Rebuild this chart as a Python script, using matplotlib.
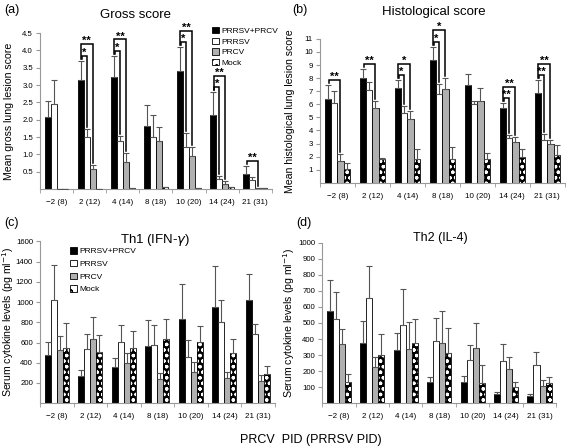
import numpy as np
import matplotlib.pyplot as plt
from matplotlib.patches import Patch

plt.rcParams['font.family'] = ['Liberation Sans', 'DejaVu Sans']
plt.rcParams['hatch.linewidth'] = 0.9

groups = ["\u22122 (8)", "2 (12)", "4 (14)", "8 (18)", "10 (20)", "14 (24)", "21 (31)"]
series = ["PRRSV+PRCV", "PRRSV", "PRCV", "Mock"]

# (a) gross score
gross_mean = [
    [2.08, 3.15, 3.22, 1.83, 3.42, 2.13, 0.43],
    [2.45, 1.50, 1.40, 1.50, 1.20, 0.30, 0.25],
    [0.00, 0.57, 0.78, 1.38, 0.95, 0.15, 0.02],
    [0.00, 0.00, 0.02, 0.05, 0.03, 0.05, 0.03],
]
gross_err = [
    [0.45, 0.55, 0.62, 0.60, 0.67, 0.67, 0.23],
    [0.70, 0.22, 0.12, 0.65, 0.42, 0.08, 0.10],
    [0.00, 0.12, 0.27, 0.40, 0.25, 0.08, 0.00],
    [0.00, 0.00, 0.00, 0.01, 0.01, 0.01, 0.01],
]
# (group, bar compared with PRRSV+PRCV, label)
gross_sig = [(1, 1, "*"), (1, 2, "**"), (2, 1, "*"), (2, 2, "**"),
             (4, 1, "*"), (4, 2, "**"), (5, 1, "*"), (5, 2, "**"), (6, 2, "**")]

# (b) histological score
hist_mean = [
    [6.40, 8.00, 7.25, 9.40, 7.50, 5.70, 6.90],
    [6.10, 7.10, 5.35, 6.80, 6.00, 3.45, 3.30],
    [1.70, 5.70, 4.90, 7.15, 6.25, 3.10, 3.00],
    [1.02, 1.80, 1.85, 1.85, 1.80, 1.95, 2.15],
]
hist_err = [
    [1.05, 0.70, 0.60, 1.00, 0.85, 0.40, 0.95],
    [0.90, 0.60, 0.55, 0.75, 0.25, 0.20, 0.40],
    [0.50, 0.55, 0.60, 0.85, 1.00, 0.40, 0.30],
    [0.50, 0.10, 0.70, 0.90, 0.50, 0.65, 0.75],
]
hist_sig = [(0, 2, "**"), (1, 2, "**"), (2, 1, "*"), (2, 2, "*"),
            (3, 1, "*"), (3, 2, "*"), (5, 1, "**"), (5, 2, "**"),
            (6, 1, "**"), (6, 2, "**")]

# (c) Th1 (IFN-gamma)
th1_mean = [
    [480, 270, 355, 565, 830, 950, 1020],
    [1020, 540, 605, 580, 455, 800, 680],
    [530, 630, 395, 235, 305, 245, 220],
    [550, 505, 545, 630, 610, 495, 285],
]
th1_err = [
    [125, 60, 90, 255, 345, 405, 255],
    [350, 145, 170, 190, 170, 225, 100],
    [135, 220, 105, 60, 105, 60, 55],
    [240, 170, 170, 200, 150, 140, 85],
]

# (d) Th2 (IL-4)
th2_mean = [
    [575, 375, 330, 135, 135, 55, 45],
    [525, 655, 485, 390, 270, 265, 240],
    [370, 225, 335, 375, 345, 210, 110],
    [135, 300, 375, 310, 125, 100, 125],
]
th2_err = [
    [195, 135, 110, 30, 35, 15, 12],
    [165, 200, 225, 140, 90, 105, 80],
    [90, 60, 170, 200, 155, 80, 35],
    [50, 130, 150, 160, 115, 35, 40],
]

faces = ["black", "white", "#b0b0b0", "black"]
width = 0.18


def draw(ax, means, errs, ymax, yticks, fmt, ylabel, label_x, sig=None):
    x = np.arange(len(groups))
    offs = (np.arange(4) - 1.5) * width
    for i in range(4):
        m = np.array(means[i], float)
        e = np.array(errs[i], float)
        if i == 3:
            ax.bar(x + offs[i], m, width, color="black", edgecolor="white",
                   hatch="ooo", linewidth=0, zorder=2)
            ax.bar(x + offs[i], m, width, fill=False, edgecolor="black",
                   linewidth=0.6, zorder=2)
        else:
            ax.bar(x + offs[i], m, width, color=faces[i], edgecolor="black",
                   linewidth=0.6, zorder=2)
        ax.errorbar(x + offs[i], m, yerr=[np.zeros_like(e), e], fmt="none",
                    ecolor="#555555", elinewidth=0.8, capsize=2, capthick=0.8, zorder=3)
    if sig:
        ax_h = ax.get_position().height * fig.get_figheight() * fig.dpi
        px = ymax / ax_h
        level = {}
        for g, j, lab in sig:
            top0 = means[0][g] + errs[0][g]
            topj = means[j][g] + errs[j][g]
            lvl = level.get(g, 0)
            h = top0 + px * (5 + 11.5 * lvl)
            x0 = x[g] + offs[0] + 0.03 - 0.02 * lvl
            x1 = x[g] + offs[j]
            ax.plot([x0, x0, x1, x1], [top0 + px * 2, h, h, topj + px * 2],
                    color="black", lw=1.1, zorder=4, clip_on=False,
                    solid_joinstyle="miter")
            ax.text((x0 + x1) / 2, h - px * 2, lab, ha="center", va="bottom",
                    fontsize=8, fontweight="bold", zorder=4, clip_on=False)
            level[g] = lvl + 1
    ax.set_xlim(-0.5, len(groups) - 0.5)
    ax.set_ylim(0, ymax)
    ax.set_yticks(yticks)
    ax.set_yticklabels([fmt.format(v) for v in yticks])
    ax.set_xticks(x)
    ax.set_xticklabels(groups)
    ax.set_xticks(np.arange(len(groups) + 1) - 0.5, minor=True)
    ax.tick_params(axis="x", which="major", length=0, labelsize=5.8, pad=7)
    ax.tick_params(axis="x", which="minor", length=3, color="#999999")
    ax.tick_params(axis="y", length=3, color="#999999", labelsize=5.6, pad=2)
    for s in ["top", "right"]:
        ax.spines[s].set_visible(False)
    for s in ["left", "bottom"]:
        ax.spines[s].set_color("#999999")
        ax.spines[s].set_linewidth(0.8)
    ax.set_ylabel(ylabel, fontsize=7.6)
    ax.yaxis.set_label_coords(label_x, 0.5)


fig = plt.figure(figsize=(5.67, 4.47), dpi=100)
ax_a = fig.add_axes([0.0705, 0.577, 0.409, 0.349])
ax_b = fig.add_axes([0.564, 0.591, 0.432, 0.322])
ax_c = fig.add_axes([0.0705, 0.098, 0.414, 0.362])
ax_d = fig.add_axes([0.568, 0.098, 0.413, 0.359])

draw(ax_a, gross_mean, gross_err, 4.5, np.arange(0.5, 4.51, 0.5), "{:.1f}",
     "Mean gross lung lesion score", -0.11, gross_sig)
draw(ax_b, hist_mean, hist_err, 11, np.arange(1, 12), "{:d}",
     "Mean histological lung lesion score", -0.1, hist_sig)
draw(ax_c, th1_mean, th1_err, 1600, np.arange(200, 1601, 200), "{:d}",
     "Serum cytokine levels (pg ml$^{-1}$)", -0.1)
draw(ax_d, th2_mean, th2_err, 1000, np.arange(100, 1001, 100), "{:d}",
     "Serum cytokine levels (pg ml$^{-1}$)", -0.105)

handles = [Patch(facecolor="black", edgecolor="black", linewidth=0.6),
           Patch(facecolor="white", edgecolor="black", linewidth=0.6),
           Patch(facecolor="#b0b0b0", edgecolor="black", linewidth=0.6),
           Patch(facecolor="white", edgecolor="black", hatch="oo", linewidth=0.6)]
leg_kw = dict(frameon=False, fontsize=6, handlelength=0.8, handleheight=0.8,
              handletextpad=0.3, borderaxespad=0, borderpad=0)
fig.legend(handles, series, loc="upper left", bbox_to_anchor=(0.374, 0.94),
           labelspacing=0.32, **leg_kw)
fig.legend(handles, series, loc="upper left", bbox_to_anchor=(0.124, 0.447),
           labelspacing=0.55, **leg_kw)

fig.text(136 / 567, 1 - 15 / 447, "Gross score", fontsize=9.5, ha="center", va="center")
fig.text(434 / 567, 1 - 12 / 447, "Histological score", fontsize=9.5, ha="center", va="center")
fig.text(155 / 567, 1 - 240 / 447, "Th1 (IFN-$\\gamma$)", fontsize=9.5, ha="center", va="center")
fig.text(440 / 567, 1 - 238 / 447, "Th2 (IL-4)", fontsize=9, ha="center", va="center")

fig.text(0.008, 0.99, "(a)", fontsize=9, va="top")
fig.text(0.515, 0.99, "(b)", fontsize=9, va="top")
fig.text(0.008, 0.515, "(c)", fontsize=9, va="top")
fig.text(0.522, 0.515, "(d)", fontsize=9, va="top")
fig.text(311 / 567, 1 - 440 / 447, "PRCV  PID (PRRSV PID)", fontsize=9, ha="center", va="center")

fig.savefig("out.png", dpi=100)
